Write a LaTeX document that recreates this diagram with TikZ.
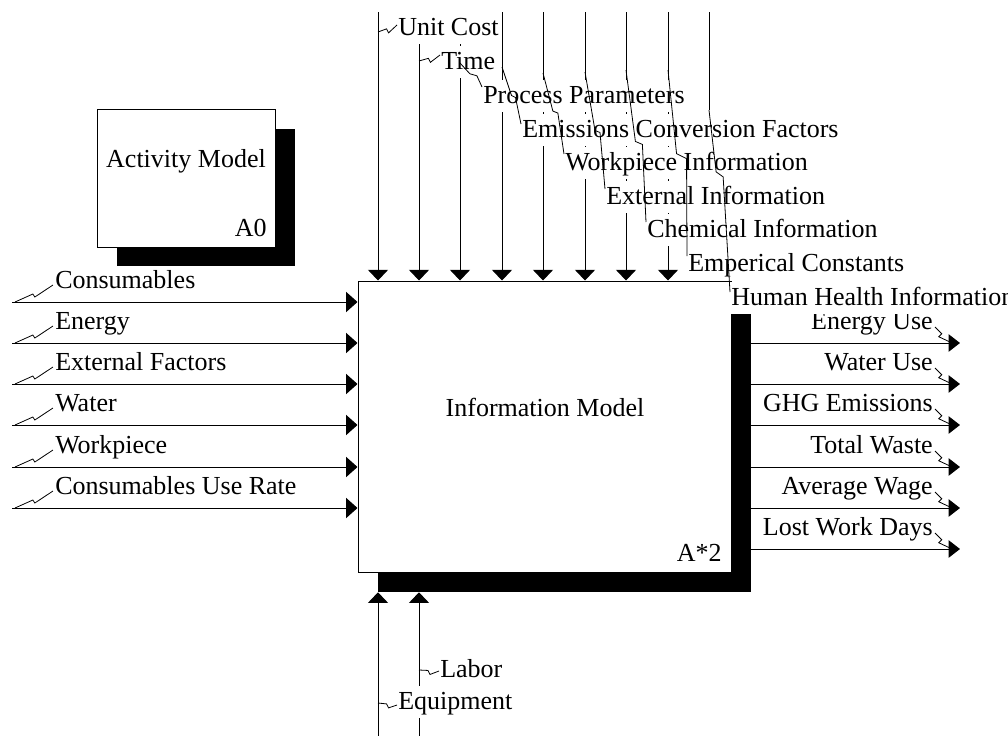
\documentclass[tikz,border=0pt]{standalone}
\usepackage{fontspec}
\setmainfont{Liberation Serif}
\usetikzlibrary{arrows.meta,calc,fit}

% kinked leader line: start, end, fraction of the kink, kink offset
\newcommand\zigline[4]{\draw[leader] (#1) -- ($(#1)!#3!(#2)$) -- ++#4 -- (#2);}

\begin{document}
\begin{tikzpicture}[x=0.75pt,y=-0.75pt,
  every node/.style={font=\fontsize{19.5}{23}\selectfont},
  txt/.style={inner sep=0pt},
  wire/.style={line width=0.75pt},
  downarrow/.style={wire,-{Triangle[length=8pt,width=15pt]}},
  uparrow/.style={wire,-{Triangle[length=8pt,width=15pt]}},
  rightarrow/.style={wire,-{Triangle[length=8.5pt,width=15pt]}},
  outarrow/.style={wire,-{Triangle[length=8.5pt,width=13pt]}},
  lblplain/.style={inner xsep=1.5pt,inner ysep=2.6pt,text height=14.6pt,text depth=4.3pt},
  lbl/.style={lblplain,fill=white},
  leader/.style={line width=0.6pt},
  box/.style={draw,fill=white,line width=0.75pt,inner sep=0pt},
  shadowbox/.style={fill=black,inner sep=0pt}]
\useasboundingbox (0,0) rectangle (1008,736);

% activity box and its shadow
\node[shadowbox,fit={(117,129)(295,266)}] (ams) {};
\node[box,fit={(97,109)(275,247)}] (am) {};
\node[txt,anchor=base] (amt) at (186,167) {Activity Model};
\node[txt,anchor=base east] (amn) at (267,236) {A0};

% information model box and its shadow
\node[shadowbox,fit={(378,301)(751,592)}] (ims) {};
\node[box,fit={(358,281)(731,572)}] (im) {};
\node[txt,anchor=base] (imt) at (545,416) {Information Model};
\node[txt,anchor=base east] (imn) at (722,561) {A*2};

% controls from above
\foreach \x [count=\i] in {378,419,460,502,543,585,626,668} {
  \coordinate (t\i) at (\x,12);
  \draw[downarrow] (t\i) -- (t\i |- im.north);
}
\coordinate (t9) at (709,12);
\coordinate (a9) at (709,110);
\draw[wire] (t9) -- (a9);

% inputs from the left
\foreach \y [count=\i] in {302,343,384,425,467,508} {
  \coordinate (l\i) at (12,\y);
  \draw[rightarrow] (l\i) -- (l\i -| im.west);
}

% outputs to the right
\foreach \y [count=\i] in {343,384,425,467,508,549} {
  \coordinate (o\i) at (960,\y);
  \draw[outarrow] (o\i -| ims.east) -- (o\i);
}

% mechanisms from below
\foreach \x [count=\i] in {378,419} {
  \coordinate (b\i) at (\x,736);
  \draw[uparrow] (b\i) -- (b\i |- ims.south);
}

% input labels
\foreach \y/\t [count=\i] in {288/Consumables,329/Energy,370/External Factors,411/Water,453/Workpiece,494/Consumables Use Rate} {
  \node[lblplain,anchor=base west] (in\i) at (53,\y) {\t};
}

% output labels
\foreach \y/\t [count=\i] in {329/Energy Use,370/Water Use,411/GHG Emissions,453/Total Waste,494/Average Wage,535/Lost Work Days} {
  \node[lblplain,anchor=base east] (out\i) at (935,\y) {\t};
}

% control labels
\node[lbl,anchor=base west] (uc) at (396,35) {Unit Cost};
\node[lbl,anchor=base west] (tm) at (439,69) {Time};
\node[lbl,anchor=base west] (pp) at (481,103) {Process Parameters};
\node[lbl,anchor=base west] (ec) at (520,137) {Emissions Conversion Factors};
\node[lbl,anchor=base west] (wi) at (563,170) {Workpiece Information};
\node[lbl,anchor=base west] (ei) at (604,204) {External Information};
\node[lbl,anchor=base west] (ci) at (645,237) {Chemical Information};
\node[lbl,anchor=base west] (emp) at (686,271) {Emperical Constants};
\node[lbl,anchor=base west] (hh) at (729,305) {Human Health Information};

% mechanism labels
\node[lbl,anchor=base west] (lab) at (438,677) {Labor};
\node[lbl,anchor=base west] (eq) at (396,709) {Equipment};

% leaders of the control labels
\coordinate (a1) at ($(t1)+(0,20)$);
\coordinate (z1) at ($(uc.base west)+(1,-10)$);
\coordinate (a2) at ($(t2)+(0,49)$);
\coordinate (z2) at ($(tm.base west)+(1,-14)$);
\coordinate (a3) at ($(t3)+(0,51)$);
\coordinate (z3) at ($(pp.base west)+(1,-16)$);
\coordinate (a4) at ($(t4)+(0,55)$);
\coordinate (z4) at ($(ec.base west)+(1,-13)$);
\coordinate (a5) at ($(t5)+(0,61)$);
\coordinate (z5) at ($(wi.base west)+(1,-16)$);
\coordinate (a6) at ($(t6)+(0,60)$);
\coordinate (z6) at ($(ei.base west)+(1,-15)$);
\coordinate (a7) at ($(t7)+(0,58)$);
\coordinate (z7) at ($(ci.base west)+(1,-15)$);
\coordinate (a8) at ($(t8)+(0,58)$);
\coordinate (z8) at ($(emp.base west)+(1,-15)$);
\coordinate (z9) at ($(hh.base west)+(1,-13)$);
\zigline{a1}{z1}{0.45}{(2,4)}
\zigline{a2}{z2}{0.45}{(2,4)}
\zigline{a3}{z3}{0.45}{(7,2)}
\zigline{a4}{z4}{0.5}{(4,2)}
\zigline{a5}{z5}{0.47}{(5,2)}
\zigline{a6}{z6}{0.5}{(5,2)}
\zigline{a7}{z7}{0.47}{(7,3)}
\zigline{a8}{z8}{0.45}{(10,5)}
\zigline{a9}{z9}{0.34}{(7,5)}

% leaders of the input labels
\foreach \i in {1,...,6} {
  \coordinate (li\i) at ($(l\i)+(3,0)$);
  \coordinate (lz\i) at ($(in\i.base west)+(0,-3)$);
  \zigline{li\i}{lz\i}{0.47}{(2,3)}
}

% leaders of the output labels
\foreach \i in {1,...,6} {
  \coordinate (oa\i) at ($(out\i.base east)+(0,-2)$);
  \coordinate (oz\i) at ($(o\i)+(-10,-1)$);
  \zigline{oa\i}{oz\i}{0.45}{(-3,3)}
}

% leaders of the mechanism labels
\coordinate (ba2) at ($(b2)+(0,-66)$);
\coordinate (bz2) at ($(lab.base west)+(1,-6)$);
\coordinate (ba1) at ($(b1)+(0,-33)$);
\coordinate (bz1) at ($(eq.base west)+(1,-4)$);
\zigline{ba2}{bz2}{0.45}{(2,4)}
\zigline{ba1}{bz1}{0.45}{(2,4)}
\end{tikzpicture}
\end{document}
